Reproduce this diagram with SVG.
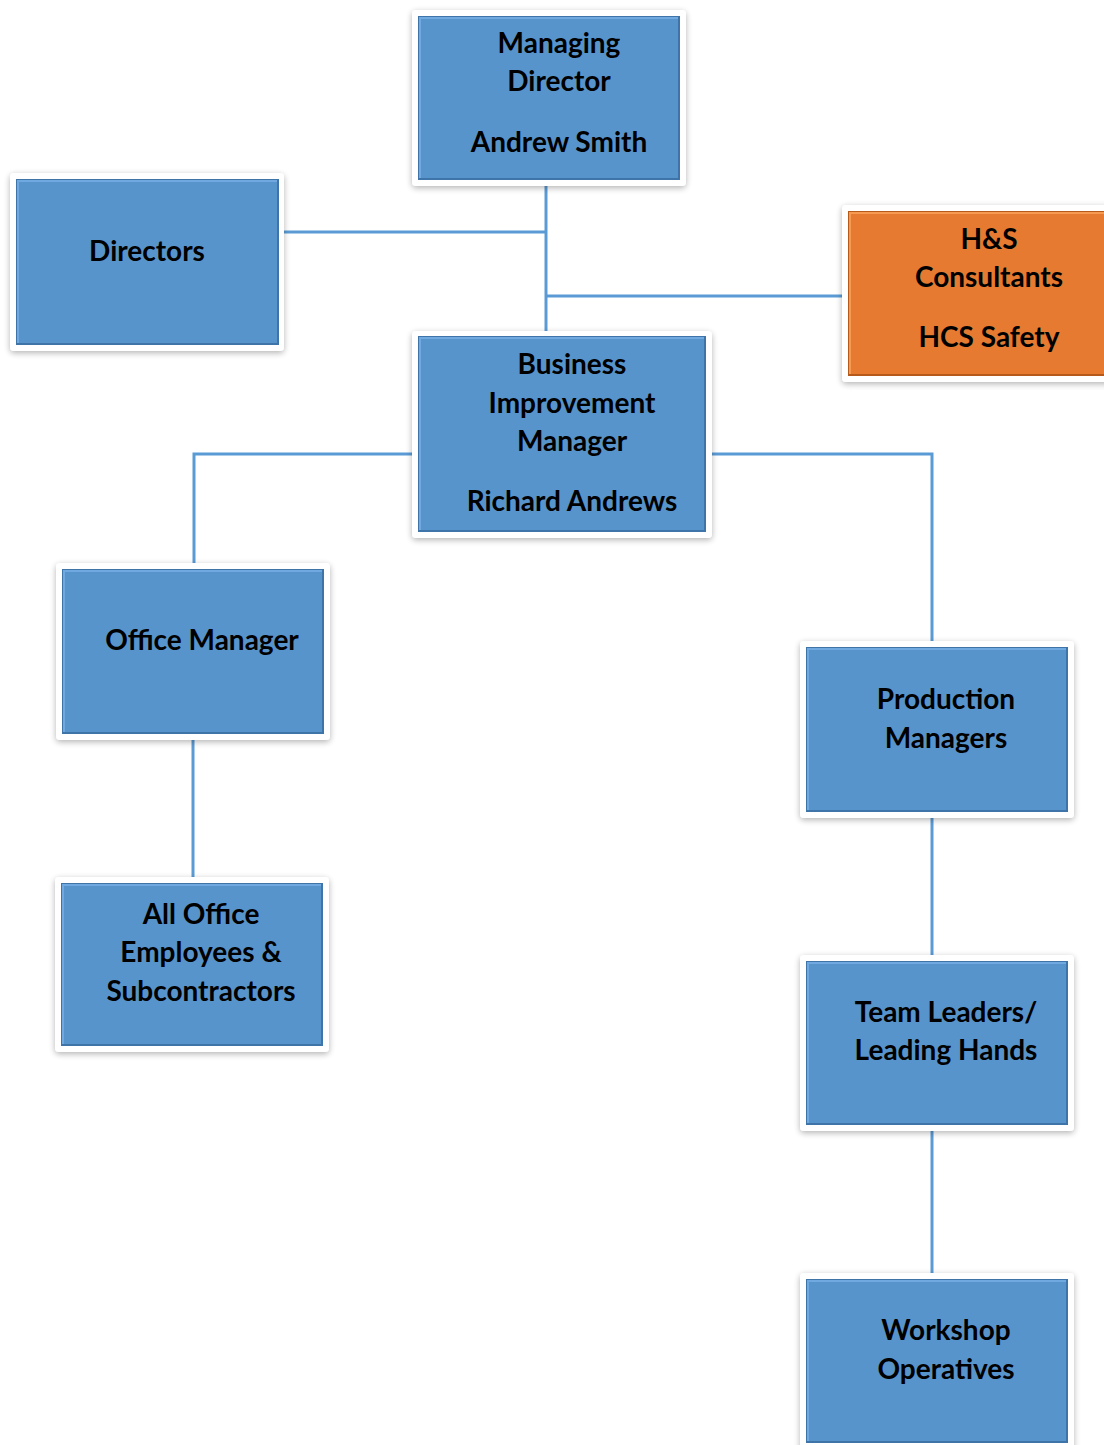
<svg xmlns="http://www.w3.org/2000/svg" width="1104" height="1445" viewBox="0 0 1104 1445">
<defs>
<filter id="sh" x="-10%" y="-10%" width="120%" height="125%">
<feGaussianBlur in="SourceAlpha" stdDeviation="3"/>
<feOffset dy="2"/>
<feComponentTransfer><feFuncA type="linear" slope="0.3"/></feComponentTransfer>
<feMerge><feMergeNode/><feMergeNode in="SourceGraphic"/></feMerge>
</filter>
</defs>
<style>
.frame{fill:#ffffff;filter:url(#sh)}
.blue{fill:#5894cc;stroke:#3f74a8;stroke-width:2}
.orange{fill:#e57a30;stroke:#b65a1c;stroke-width:2}
.hiB{fill:none;stroke:#6fa9e0;stroke-width:2}
.hiO{fill:none;stroke:#f59a50;stroke-width:2}
.t{font-family:Lato,"Liberation Sans",sans-serif;font-weight:bold;font-size:28px;fill:#000;text-anchor:middle}
.c{fill:none;stroke:#5b9bd5;stroke-width:3}
</style>
<g id="connectors">
<path class="c" d="M546 186V331"/>
<path class="c" d="M284 232H546"/>
<path class="c" d="M546 296H842"/>
<path class="c" d="M412 454H194V563"/>
<path class="c" d="M712 454H932V641"/>
<path class="c" d="M193 740V877"/>
<path class="c" d="M932 818V955"/>
<path class="c" d="M932 1131V1273"/>
</g>
<g id="md">
<rect class="frame" x="412" y="10" width="274" height="176" rx="4"/>
<rect class="blue" x="419" y="17" width="260" height="162"/>
<path class="hiB" d="M420 178V18H678"/>
<text class="t" x="559" y="53">Managing</text>
<text class="t" x="559" y="91">Director</text>
<text class="t" x="559" y="152">Andrew Smith</text>
</g>
<g id="directors">
<rect class="frame" x="10" y="173" width="274" height="178" rx="4"/>
<rect class="blue" x="17" y="180" width="261" height="164"/>
<path class="hiB" d="M18 343V181H277"/>
<text class="t" x="147" y="261">Directors</text>
</g>
<g id="hs">
<rect class="frame" x="842" y="205" width="270" height="177" rx="4"/>
<rect class="orange" x="849" y="212" width="265" height="163"/>
<path class="hiO" d="M850 374V213H1104"/>
<text class="t" x="989" y="249">H&amp;S</text>
<text class="t" x="989" y="287">Consultants</text>
<text class="t" x="989" y="347">HCS Safety</text>
</g>
<g id="bim">
<rect class="frame" x="412" y="331" width="300" height="207" rx="4"/>
<rect class="blue" x="419" y="337" width="286" height="194"/>
<path class="hiB" d="M420 530V338H704"/>
<text class="t" x="572" y="374">Business</text>
<text class="t" x="572" y="413">Improvement</text>
<text class="t" x="572" y="451">Manager</text>
<text class="t" x="572" y="511">Richard Andrews</text>
</g>
<g id="office-manager">
<rect class="frame" x="56" y="563" width="274" height="177" rx="4"/>
<rect class="blue" x="63" y="570" width="260" height="163"/>
<path class="hiB" d="M64 732V571H322"/>
<text class="t" x="202" y="650">Office Manager</text>
</g>
<g id="all-office">
<rect class="frame" x="55" y="877" width="274" height="175" rx="4"/>
<rect class="blue" x="62" y="884" width="260" height="161"/>
<path class="hiB" d="M63 1044V885H321"/>
<text class="t" x="201" y="924">All Office</text>
<text class="t" x="201" y="962">Employees &amp;</text>
<text class="t" x="201" y="1001">Subcontractors</text>
</g>
<g id="production">
<rect class="frame" x="800" y="641" width="274" height="177" rx="4"/>
<rect class="blue" x="807" y="648" width="260" height="163"/>
<path class="hiB" d="M808 810V649H1066"/>
<text class="t" x="946" y="709">Production</text>
<text class="t" x="946" y="748">Managers</text>
</g>
<g id="team-leaders">
<rect class="frame" x="800" y="955" width="274" height="176" rx="4"/>
<rect class="blue" x="807" y="962" width="260" height="162"/>
<path class="hiB" d="M808 1123V963H1066"/>
<text class="t" x="946" y="1022">Team Leaders/</text>
<text class="t" x="946" y="1060">Leading Hands</text>
</g>
<g id="workshop">
<rect class="frame" x="800" y="1273" width="274" height="180" rx="4"/>
<rect class="blue" x="807" y="1280" width="260" height="162"/>
<path class="hiB" d="M808 1441V1281H1066"/>
<text class="t" x="946" y="1340">Workshop</text>
<text class="t" x="946" y="1379">Operatives</text>
</g>
</svg>
